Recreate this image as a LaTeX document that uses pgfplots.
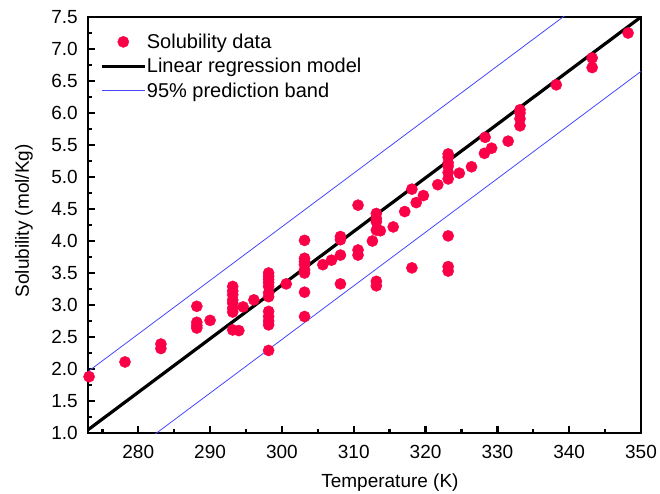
\documentclass[border=0pt]{standalone}
\usepackage{fontspec}
\setmainfont{Liberation Sans}
\usepackage{pgfplots}
\pgfplotsset{compat=1.18}
\definecolor{dotcol}{RGB}{250,0,70}
\definecolor{bandcol}{RGB}{70,70,255}
\pgfplotsset{
  linelegend/.style={legend image code/.code={\draw[##1] (0pt,0pt) -- (43pt,0pt);}},
  dotlegend/.style={legend image code/.code={\draw[mark repeat=2,mark phase=2,##1] plot coordinates {(0pt,0pt) (21.5pt,0pt) (43pt,0pt)};}},
}

\begin{document}
\begin{tikzpicture}
\begin{axis}[
  scale only axis,
  width=553pt, height=416pt,
  xmin=273, xmax=350, ymin=1.0, ymax=7.5,
  xtick={280,290,...,350},
  minor xtick={275,285,...,345},
  ytick={1.0,1.5,...,7.5},
  minor ytick={1.25,1.75,...,7.25},
  xtick pos=bottom, ytick pos=left,
  tick align=inside,
  major tick length=7pt, minor tick length=4pt,
  every tick/.style={black, line width=2.4pt},
  axis line style={line width=2.8pt},
  ticklabel style={font=\fontsize{19}{22}\selectfont, /pgf/number format/assume math mode=true},
  xticklabel style={inner sep=0pt, yshift=-12pt},
  yticklabel style={inner sep=0pt, xshift=-10pt,
    /pgf/number format/fixed, /pgf/number format/fixed zerofill,
    /pgf/number format/precision=1},
  scaled x ticks=false,
  xticklabel={\pgfmathprintnumber[/pgf/number format/1000 sep={}]{\tick}},
  xlabel={Temperature (K)},
  ylabel={Solubility (mol/Kg)},
  label style={font=\fontsize{19}{22}\selectfont},
  xlabel style={at={(axis description cs:0.546,-0.12)}, anchor=center},
  ylabel style={at={(axis description cs:-0.116,0.51)}, anchor=center},
  legend style={at={(axis description cs:0.0217,0.97)}, anchor=north west,
    draw=none, fill=none, inner sep=0pt,
    font=\fontsize{20}{24}\selectfont,
    nodes={inner xsep=0.5pt, inner ysep=4.2pt}},
  legend cell align=left,
]
% data
\addplot[only marks, mark=*, mark size=5.6pt, color=dotcol, dotlegend]
coordinates {
(273.15,1.88) (278.15,2.11) (283.15,2.39) (283.15,2.32)
(288.15,2.98) (288.15,2.73) (288.15,2.68) (288.15,2.64) (290,2.76)
(293.15,3.29) (293.15,3.22) (293.15,3.16) (293.15,3.08) (293.15,3.03)
(293.15,2.95) (293.15,2.89) (293.15,2.61) (294,2.60) (294.6,2.97) (296.1,3.08)
(298.15,3.50) (298.15,3.45) (298.15,3.40) (298.15,3.35) (298.15,3.29)
(298.15,3.19) (298.15,3.13) (298.15,2.90) (298.15,2.82) (298.15,2.75)
(298.15,2.69) (298.15,2.29) (300.6,3.33)
(303.15,4.01) (303.15,3.73) (303.15,3.68) (303.15,3.63) (303.15,3.55)
(303.15,3.50) (303.15,3.20) (303.15,2.82) (305.7,3.63) (306.9,3.70)
(308.15,4.07) (308.15,4.02) (308.15,3.78) (308.15,3.33)
(310.6,4.56) (310.6,3.86) (310.6,3.78) (312.6,4.00)
(313.15,4.43) (313.15,4.35) (313.15,4.30) (313.15,4.17) (313.15,3.37)
(313.15,3.30) (313.7,4.16) (315.5,4.22) (317.1,4.46)
(318.1,4.81) (318.1,3.58) (318.7,4.60) (319.7,4.71) (321.7,4.88)
(323.15,5.36) (323.15,5.31) (323.15,5.22) (323.15,5.17) (323.15,5.07)
(323.15,4.97) (323.15,4.08) (323.15,3.60) (323.15,3.53)
(324.7,5.06) (326.4,5.16) (328.3,5.62) (328.2,5.37) (329.2,5.45)
(331.5,5.56) (333.15,6.05) (333.15,6.00) (333.15,5.91) (333.15,5.80)
(338.2,6.44) (343.2,6.86) (343.2,6.71) (348.2,7.25)
};
\addlegendentry{Solubility data}
% regression
\addplot[black, line width=3.2pt, linelegend]
coordinates {(273,1.05) (350,7.50)};
\addlegendentry{Linear regression model}
% prediction band
\addplot[bandcol, line width=0.8pt, linelegend]
coordinates {(273,1.96) (350,8.41)};
\addlegendentry{95\% prediction band}
\addplot[bandcol, line width=0.8pt, forget plot]
coordinates {(273,0.20) (350,6.65)};
\end{axis}
\pgfresetboundingbox
\path ([shift={(-88pt,-60pt)}]current axis.south west) rectangle ([shift={(19pt,17pt)}]current axis.north east);
\end{tikzpicture}
\end{document}
